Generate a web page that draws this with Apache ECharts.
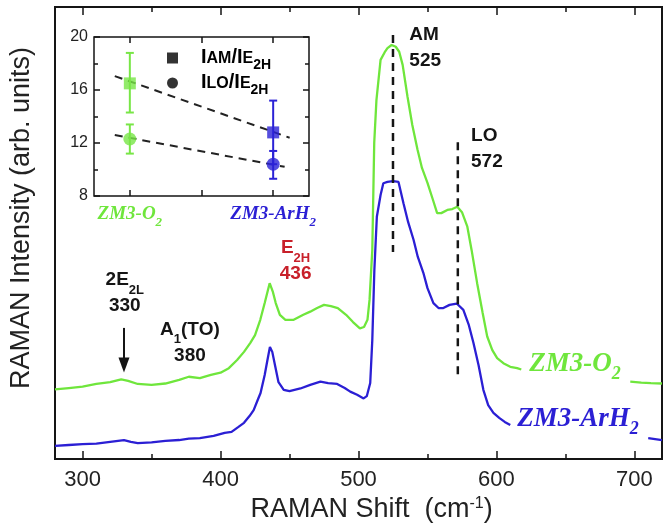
<!DOCTYPE html>
<html><head><meta charset="utf-8">
<script src="https://cdn.jsdelivr.net/npm/echarts@6/dist/echarts.min.js"></script>
<style>html,body{margin:0;padding:0;background:#fff}#c{width:667px;height:530px}</style>
</head><body><div id="c"></div>
<script>
// ---- main spectra (Raman shift in cm^-1, intensity in arbitrary units) ----
const greenShift = [280,290,300,310,320,328,333,340,350,360,370,377,385,393,400,406,412,417,421.6,425,428.8,432,435.6,438,440,443,447,453,460,465,470,475,480,485,491,496,501,504,506.5,508,510,511.4,513,516,519,521,524,527,529.5,532,535.5,539,542.8,546,550,554,557,560,564.4,568,571.6,575,578.9,582,586,590,593.3,597,600.5,605,610,615,618,650,697,705,712,720];
const greenIntensity = [15.4,15.7,16.0,16.6,17.0,17.6,17.3,16.6,16.4,16.7,17.5,18.2,17.9,18.6,19.1,20.1,21.9,23.7,25.7,27.4,30.8,34.5,38.9,36.9,34.5,31.9,30.8,30.8,31.9,32.6,33.4,34.1,33.8,33.4,31.9,30.3,28.9,29.2,30.8,35.2,46.2,69.9,79.4,88.3,90.0,90.9,91.6,91.2,90.1,87.2,80.2,73.9,68.4,64.4,61.1,57.3,54.4,54.4,55.1,55.3,55.8,54.6,51.4,46.2,38.9,32.3,27.1,24.1,22.3,21.2,20.4,20.1,19.8,null,17.1,16.9,16.8,16.7];
const blueShift = [280,290,300,310,320,330,335,340,350,360,370,377,385,395,403,408,413,417,421,424,427,429,432,434,435.8,437.5,439.7,442,445.8,450,457.9,465,472.4,478,484.5,490,494,499,503.7,506,508.5,510,511.5,513.3,516,518,521,525,529,532.6,536,539.9,543,547,550,554.3,558,561.5,566,571.2,576,580,583.3,587,590.5,594,597.8,602,606,610,660,710,720];
const blueIntensity = [2.9,3.1,3.3,3.4,3.8,4.2,3.8,3.5,3.7,4.0,4.2,4.5,4.6,5.1,5.8,6.0,7.1,8.0,9.5,10.8,13.1,14.6,18.6,21.9,24.8,23.7,20.4,17.0,15.3,15.0,15.6,16.4,17.1,16.8,16.6,15.7,14.9,14.2,13.4,13.9,16.8,26.3,41.8,53.6,58.4,61.0,61.3,61.5,61.3,56.6,52.4,48.5,44.7,41.2,37.8,34.5,33.4,33.4,34.1,34.4,33.0,29.6,25.7,20.8,15.3,11.9,10.2,9.1,8.2,7.5,null,4.6,4.2];
const xMajorTicks = [300,400,500,600,700];
const xMinorTicks = [350,450,550,650];
// ---- peak markers ----
const peakAM = 525, amLineY = [93.8, 45.8];
const peakLO = 572, loLineY = [70.1, 17.9];
const arrowX = 330, arrowY = [29.0, 20.8];
// ---- inset: intensity ratios ----
const insetCategories = ['ZM3-O2', '', 'ZM3-ArH2'];
const insetX = [0.5, 2.5];
const ratioAM = [16.5, 12.8];
const ratioAMErr = [[14.3, 18.8], [10.4, 15.2]];
const ratioLO = [12.3, 10.4];
const ratioLOErr = [[11.2, 13.4], [9.3, 11.4]];
const fitAMX = [0.29, 2.73], fitAMY = [17.05, 12.4];
const fitLOX = [0.29, 2.66], fitLOY = [12.6, 10.2];

const GREEN = '#6fe63c', BLUE = '#2b1fd4', RED = '#c8202a', INK = '#151515';
const sampleColors = ['#78e646', '#2b22d6'];
const SANS = '"Liberation Sans", Arial, sans-serif';
const SERIF = '"Liberation Serif", "Times New Roman", serif';

const pairs = (xs, ys) => xs.map((x, i) => [x, ys[i] === null ? '-' : ys[i]]);

const annRich = {
  k: {fontSize: 19, fontWeight: 'bold', fontFamily: SANS, color: INK, lineHeight: 26, verticalAlign: 'top'},
  ks: {fontSize: 13, fontWeight: 'bold', fontFamily: SANS, color: INK, lineHeight: 13, padding: [13,0,0,0], verticalAlign: 'top'},
  r: {fontSize: 19, fontWeight: 'bold', fontFamily: SANS, color: RED, lineHeight: 26, verticalAlign: 'top'},
  rs: {fontSize: 13, fontWeight: 'bold', fontFamily: SANS, color: RED, lineHeight: 13, padding: [13,0,0,0], verticalAlign: 'top'},
  g: {fontSize: 27, fontWeight: 'bold', fontStyle: 'italic', fontFamily: SERIF, color: GREEN, lineHeight: 30, verticalAlign: 'top'},
  gs: {fontSize: 18, fontWeight: 'bold', fontStyle: 'italic', fontFamily: SERIF, color: GREEN, lineHeight: 18, padding: [15,0,0,0], verticalAlign: 'top'},
  v: {fontSize: 27, fontWeight: 'bold', fontStyle: 'italic', fontFamily: SERIF, color: BLUE, lineHeight: 30, verticalAlign: 'top'},
  vs: {fontSize: 18, fontWeight: 'bold', fontStyle: 'italic', fontFamily: SERIF, color: BLUE, lineHeight: 18, padding: [15,0,0,0], verticalAlign: 'top'}
};
const ann = (coord, text, pos) => ({
  coord: coord,
  label: {show: true, formatter: () => text, position: pos || 'inside', distance: 0, align: pos === 'right' ? 'left' : 'center', rich: annRich}
});

const errSeries = (lowHigh) => ({
  type: 'custom', xAxisIndex: 6, yAxisIndex: 1, z: 4, silent: true,
  data: insetX.map((x, i) => [x, lowHigh[i][0], lowHigh[i][1]]),
  encode: {x: 0, y: [1, 2]},
  renderItem: (params, api) => {
    const x = api.value(0);
    const p1 = api.coord([x, api.value(1)]), p2 = api.coord([x, api.value(2)]);
    const st = {stroke: sampleColors[params.dataIndex], lineWidth: 2};
    const w = 4;
    return {type: 'group', children: [
      {type: 'line', shape: {x1: p1[0], y1: p1[1], x2: p2[0], y2: p2[1]}, style: st},
      {type: 'line', shape: {x1: p1[0]-w, y1: p1[1], x2: p1[0]+w, y2: p1[1]}, style: st},
      {type: 'line', shape: {x1: p2[0]-w, y1: p2[1], x2: p2[0]+w, y2: p2[1]}, style: st}
    ]};
  }
});

const tickStyle = {color: INK, width: 1.5};
const mainX = (pos, ticks, len, labels, extra) => Object.assign({
  type: 'value', gridIndex: 0, min: 280, max: 720, position: pos,
  axisLine: {show: false}, splitLine: {show: false},
  axisTick: {show: true, inside: true, length: len, customValues: ticks, lineStyle: tickStyle},
  axisLabel: labels ? {show: true, customValues: ticks, fontSize: 22, fontFamily: SANS, color: '#222', margin: 10} : {show: false}
}, extra || {});

const insetLabelRich = {
  g: {fontSize: 19, fontWeight: 'bold', fontStyle: 'italic', fontFamily: SERIF, color: GREEN, lineHeight: 21, verticalAlign: 'top'},
  gs: {fontSize: 13, fontWeight: 'bold', fontStyle: 'italic', fontFamily: SERIF, color: GREEN, lineHeight: 13, padding: [11,0,0,0], verticalAlign: 'top'},
  v: {fontSize: 19, fontWeight: 'bold', fontStyle: 'italic', fontFamily: SERIF, color: BLUE, lineHeight: 21, verticalAlign: 'top'},
  vs: {fontSize: 13, fontWeight: 'bold', fontStyle: 'italic', fontFamily: SERIF, color: BLUE, lineHeight: 13, padding: [11,0,0,0], verticalAlign: 'top'}
};

const option = {
  animation: false,
  backgroundColor: '#fff',
  grid: [
    {left: 55, top: 7, right: 5, bottom: 71, show: true, borderColor: INK, borderWidth: 2, backgroundColor: 'transparent'},
    {left: 94, top: 37, width: 215, height: 159, show: true, borderColor: INK, borderWidth: 1.5, backgroundColor: '#fff', z: 3}
  ],
  xAxis: [
    mainX('bottom', xMajorTicks, 8, true, {
      name: '{t|RAMAN Shift  (cm}{p|-1}{t|)}', nameLocation: 'middle', nameGap: 36,
      nameTextStyle: {padding: [0,0,0,26], rich: {
        t: {fontSize: 27, fontFamily: SANS, color: '#222', lineHeight: 30, verticalAlign: 'top'},
        p: {fontSize: 16, fontFamily: SANS, color: '#222', lineHeight: 16, verticalAlign: 'top'}
      }}
    }),
    mainX('bottom', xMinorTicks, 5, false),
    mainX('top', xMajorTicks, 8, false),
    mainX('top', xMinorTicks, 5, false),
    {type: 'category', gridIndex: 1, data: insetCategories, boundaryGap: true, position: 'bottom', z: 5,
     axisLine: {show: false},
     axisTick: {show: true, inside: true, alignWithLabel: true, interval: 0, length: 6, lineStyle: tickStyle},
     axisLabel: {show: true, interval: 0, margin: 9, rich: insetLabelRich,
       formatter: v => v === 'ZM3-O2' ? '{g|ZM3-O}{gs|2}' : (v === 'ZM3-ArH2' ? '{v|ZM3-ArH}{vs|2}' : '')}},
    {type: 'category', gridIndex: 1, data: insetCategories, boundaryGap: true, position: 'top', z: 5,
     axisLine: {show: false},
     axisTick: {show: true, inside: true, alignWithLabel: true, interval: 0, length: 6, lineStyle: tickStyle},
     axisLabel: {show: false}},
    {type: 'value', gridIndex: 1, min: 0, max: 3, show: false}
  ],
  yAxis: [
    {type: 'value', gridIndex: 0, min: 0, max: 100, axisLine: {show: false}, axisTick: {show: false}, axisLabel: {show: false}, splitLine: {show: false}},
    {type: 'value', gridIndex: 1, min: 8, max: 20, interval: 4, position: 'left', z: 5,
     axisLine: {show: false}, splitLine: {show: false},
     axisTick: {show: true, inside: true, length: 6, lineStyle: tickStyle},
     minorTick: {show: true, splitNumber: 2, length: 4, lineStyle: tickStyle},
     axisLabel: {fontSize: 16, fontFamily: SANS, color: '#222', margin: 6}},
    {type: 'value', gridIndex: 1, min: 8, max: 20, interval: 4, position: 'right', z: 5,
     axisLine: {show: false}, splitLine: {show: false},
     axisTick: {show: true, inside: true, length: 6, lineStyle: tickStyle},
     minorTick: {show: true, splitNumber: 2, length: 4, lineStyle: tickStyle},
     axisLabel: {show: false}}
  ],
  legend: {
    show: true, selectedMode: false, orient: 'vertical', left: 162, top: 42, itemWidth: 11, itemHeight: 11, itemGap: 0,
    data: [{name: 'AM', icon: 'rect', itemStyle: {color: '#000'}}, {name: 'LO', icon: 'circle', itemStyle: {color: '#000'}}],
    formatter: n => n === 'AM' ? '{w|}{i|I}{s|AM}{i|/I}{s|E}{u|2H}' : '{w|}{i|I}{s|LO}{i|/I}{s|E}{u|2H}',
    textStyle: {rich: {
      w: {width: 18},
      i: {fontSize: 20, fontWeight: 'bold', fontFamily: SANS, color: '#000', lineHeight: 22, verticalAlign: 'top'},
      s: {fontSize: 16, fontWeight: 'bold', fontFamily: SANS, color: '#000', lineHeight: 16, padding: [4,0,0,0], verticalAlign: 'top'},
      u: {fontSize: 14, fontWeight: 'bold', fontFamily: SANS, color: '#000', lineHeight: 14, padding: [11,0,0,0], verticalAlign: 'top'}
    }}
  },
  graphic: [{
    type: 'text', x: 22, y: 218, rotation: Math.PI / 2, silent: true,
    style: {text: 'RAMAN Intensity (arb. units)', fill: '#222', font: '27px ' + SANS,
            textAlign: 'center', textVerticalAlign: 'middle', align: 'center', verticalAlign: 'middle'}
  }],
  series: [
    {name: 'ZM3-O2', type: 'line', xAxisIndex: 0, yAxisIndex: 0, data: pairs(greenShift, greenIntensity),
     showSymbol: false, connectNulls: false, lineStyle: {color: GREEN, width: 2.3}, itemStyle: {color: GREEN}, silent: true, z: 2,
     markPoint: {symbol: 'circle', symbolSize: 1, itemStyle: {color: 'rgba(0,0,0,0)'}, silent: true, data: [
       ann([330.6, 35.95], '{k|2E}{ks|2L}\n{k|330}'),
       ann([377.8, 25.0], '{k|A}{ks|1}{k|(TO)}\n{k|380}'),
       ann([454.4, 43.0], '{r|E}{rs|2H}\n{r|436}'),
       ann([536.5, 90.2], '{k|AM}\n{k|525}', 'right'),
       ann([581.2, 67.8], '{k|LO}\n{k|572}', 'right'),
       ann([623.4, 20.7], '{g|ZM3-O}{gs|2}', 'right'),
       ann([614.7, 8.5], '{v|ZM3-ArH}{vs|2}', 'right')
     ]}},
    {name: 'ZM3-ArH2', type: 'line', xAxisIndex: 0, yAxisIndex: 0, data: pairs(blueShift, blueIntensity),
     showSymbol: false, connectNulls: false, lineStyle: {color: BLUE, width: 2.3}, itemStyle: {color: BLUE}, silent: true, z: 2},
    {type: 'line', xAxisIndex: 0, yAxisIndex: 0, data: amLineY.map(y => [peakAM, y]), showSymbol: false, silent: true, z: 3,
     lineStyle: {color: INK, width: 2.5, type: [8, 6]}},
    {type: 'line', xAxisIndex: 0, yAxisIndex: 0, data: loLineY.map(y => [peakLO, y]), showSymbol: false, silent: true, z: 3,
     lineStyle: {color: INK, width: 2.5, type: [8, 6]}},
    {type: 'line', xAxisIndex: 0, yAxisIndex: 0, silent: true, z: 3,
     data: [{value: [arrowX, arrowY[0]], symbol: 'none'}, {value: [arrowX, arrowY[1]], symbol: 'triangle', symbolSize: [11, 15], symbolRotate: 180}],
     showSymbol: true, lineStyle: {color: INK, width: 2}, itemStyle: {color: INK}},
    {type: 'line', xAxisIndex: 6, yAxisIndex: 1, data: fitAMX.map((x, i) => [x, fitAMY[i]]), showSymbol: false, silent: true, z: 3,
     lineStyle: {color: '#222', width: 2, type: [8, 6]}},
    {type: 'line', xAxisIndex: 6, yAxisIndex: 1, data: fitLOX.map((x, i) => [x, fitLOY[i]]), showSymbol: false, silent: true, z: 3,
     lineStyle: {color: '#222', width: 2, type: [8, 6]}},
    errSeries(ratioAMErr),
    errSeries(ratioLOErr),
    {name: 'AM', type: 'scatter', xAxisIndex: 6, yAxisIndex: 1, symbol: 'rect', symbolSize: 12, z: 5, silent: true,
     data: insetX.map((x, i) => ({value: [x, ratioAM[i]], itemStyle: {color: sampleColors[i]}}))},
    {name: 'LO', type: 'scatter', xAxisIndex: 6, yAxisIndex: 1, symbol: 'circle', symbolSize: 13, z: 5, silent: true,
     data: insetX.map((x, i) => ({value: [x, ratioLO[i]], itemStyle: {color: sampleColors[i]}}))}
  ]
};
const chart = echarts.init(document.getElementById('c'), null, {renderer: 'canvas'});
chart.setOption(option);
</script></body></html>
